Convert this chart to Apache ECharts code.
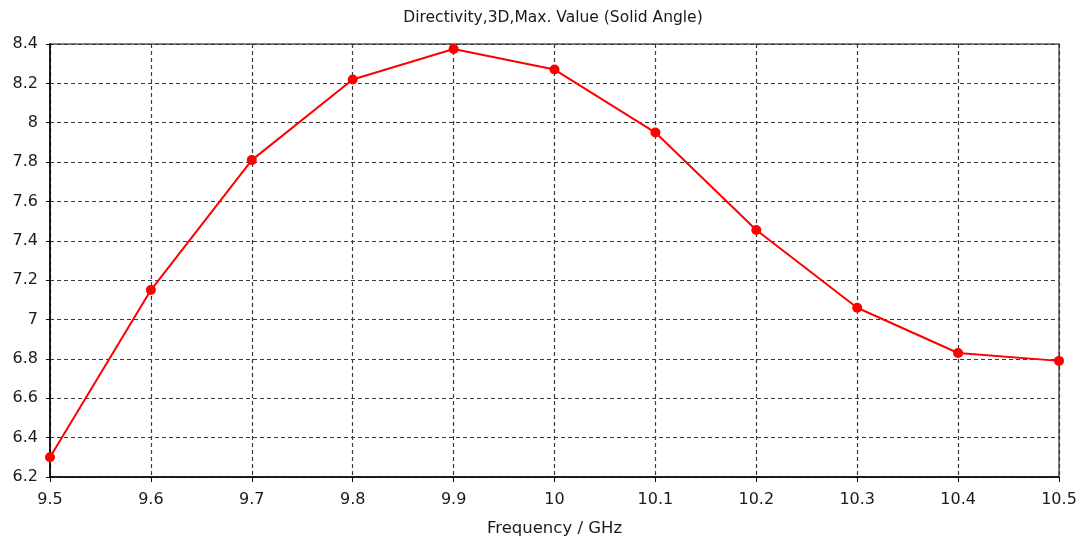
<!DOCTYPE html>
<html>
<head>
<meta charset="utf-8">
<script src="https://cdn.jsdelivr.net/npm/echarts@6/dist/echarts.min.js"></script>
<style>html,body{margin:0;padding:0;background:#fff}#c{width:1085px;height:539px}</style>
</head>
<body>
<div id="c"></div>
<script>
var frequencies = [9.5, 9.6, 9.7, 9.8, 9.9, 10.0, 10.1, 10.2, 10.3, 10.4, 10.5];
var directivity = [6.30, 7.15, 7.81, 8.22, 8.375, 8.27, 7.95, 7.455, 7.06, 6.83, 6.79];
var titleText = 'Directivity,3D,Max. Value (Solid Angle)';
var xAxisName = 'Frequency / GHz';

var chart = echarts.init(document.getElementById('c'), null, {renderer: 'canvas'});
var fmt = function (v) { return String(Number(v.toFixed(1))); };
var font = 'DejaVu Sans';
chart.setOption({
  animation: false,
  backgroundColor: '#ffffff',
  title: {
    text: titleText, left: 548, top: 5, textAlign: 'center',
    textStyle: {fontFamily: font, fontSize: 15.5, fontWeight: 'normal', color: '#1a1a1a'}
  },
  grid: {left: 50, right: 26, top: 44, bottom: 62, show: true, borderColor: '#555', borderWidth: 1.5,
         containLabel: false, outerBoundsMode: 'none'},
  xAxis: {
    type: 'value', min: 9.5, max: 10.5, interval: 0.1,
    name: xAxisName, nameLocation: 'middle', nameGap: 43,
    nameTextStyle: {fontFamily: font, fontSize: 16.5, color: '#1a1a1a'},
    axisLine: {show: true, lineStyle: {color: '#000', width: 1.5}},
    axisTick: {show: true, length: 5, lineStyle: {color: '#000'}},
    axisLabel: {formatter: fmt, fontFamily: font, fontSize: 16, color: '#1a1a1a', margin: 15},
    splitLine: {show: true, lineStyle: {color: '#3a3a3a', type: [4, 3], width: 1.2}}
  },
  yAxis: {
    type: 'value', min: 6.2, max: 8.4, interval: 0.2,
    axisLine: {show: true, lineStyle: {color: '#000', width: 1.5}},
    axisTick: {show: true, length: 4, lineStyle: {color: '#000'}},
    axisLabel: {formatter: fmt, fontFamily: font, fontSize: 16, color: '#1a1a1a', margin: 12},
    splitLine: {show: true, lineStyle: {color: '#3a3a3a', type: [4, 3], width: 1.2}}
  },
  series: [{
    type: 'line',
    data: frequencies.map(function (f, i) { return [f, directivity[i]]; }),
    symbol: 'circle', symbolSize: 10,
    lineStyle: {color: '#ff0000', width: 2},
    itemStyle: {color: '#ff0000'},
    clip: false
  }]
});
</script>
</body>
</html>
